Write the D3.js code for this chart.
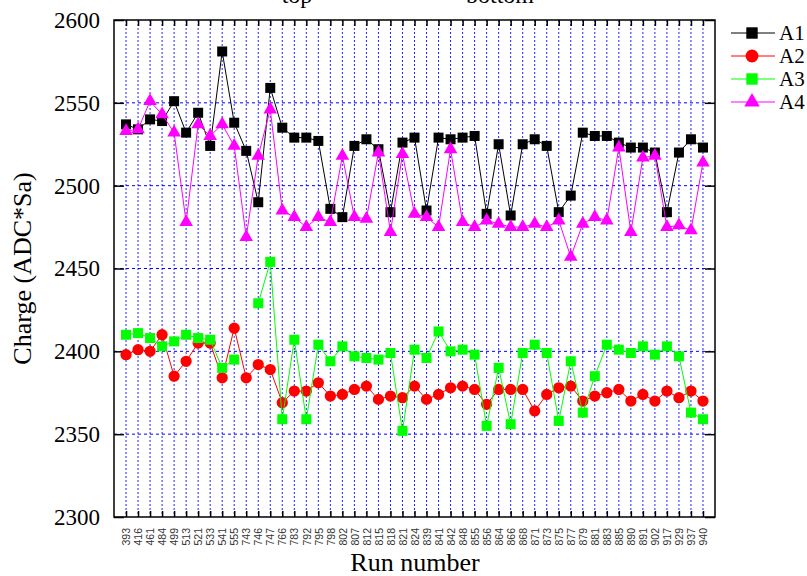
<!DOCTYPE html>
<html>
<head>
<meta charset="utf-8">
<script src="https://cdn.jsdelivr.net/npm/d3@7"></script>
<style>
    body { margin: 0; background: #fff; }
    svg { display: block; }
</style>
</head>
<body>
<svg id="chart"></svg>
<script>
// Run numbers on the x axis
const runs = ["393", "416", "461", "484", "499", "513", "521", "533", "541", "555",
    "743", "746", "747", "766", "783", "792", "795", "798", "802", "807",
    "812", "815", "818", "821", "824", "839", "841", "842", "848", "855",
    "856", "864", "866", "868", "871", "873", "875", "877", "879", "881",
    "883", "885", "890", "891", "902", "917", "929", "937", "940"];

const seriesNames = ["A1", "A2", "A3", "A4"];

const a1 = [2537, 2534, 2540, 2539, 2551, 2532, 2544, 2524, 2581, 2538,
    2521, 2490, 2559, 2535, 2529, 2529, 2527, 2486, 2481, 2524,
    2528, 2522, 2484, 2526, 2529, 2485, 2529, 2528, 2529, 2530,
    2483, 2525, 2482, 2525, 2528, 2524, 2484, 2494, 2532, 2530,
    2530, 2526, 2523, 2523, 2520, 2484, 2520, 2528, 2523];

const a2 = [2398, 2401, 2400, 2410, 2385, 2394, 2405, 2405, 2384, 2414,
    2384, 2392, 2389, 2369, 2376, 2376, 2381, 2373, 2374, 2377,
    2379, 2371, 2373, 2372, 2379, 2371, 2374, 2378, 2379, 2377,
    2368, 2377, 2377, 2377, 2364, 2374, 2378, 2379, 2370, 2373,
    2375, 2377, 2370, 2374, 2370, 2376, 2372, 2376, 2370];

// no A3 value for run 743
const a3 = [2410, 2411, 2408, 2403, 2406, 2410, 2408, 2407, 2390, 2395,
    null, 2429, 2454, 2359, 2407, 2359, 2404, 2394, 2403, 2397,
    2396, 2395, 2399, 2352, 2401, 2396, 2412, 2400, 2401, 2398,
    2355, 2390, 2356, 2399, 2404, 2399, 2358, 2394, 2363, 2385,
    2404, 2401, 2399, 2403, 2398, 2403, 2397, 2363, 2359];

const a4 = [2533, 2534, 2551, 2543, 2532, 2478, 2537, 2530, 2537, 2524,
    2469, 2518, 2546, 2485, 2481, 2475, 2481, 2478, 2518, 2481,
    2480, 2520, 2472, 2519, 2483, 2481, 2475, 2522, 2478, 2475,
    2479, 2477, 2475, 2475, 2477, 2475, 2479, 2457, 2477, 2481,
    2479, 2523, 2472, 2517, 2518, 2475, 2476, 2473, 2514];

const yTicks = [2300, 2350, 2400, 2450, 2500, 2550, 2600];

class ChargePlot {
    constructor(_config) {
        this.config = {
            parentElement: _config.parentElement,
            containerWidth: _config.containerWidth || 807,
            containerHeight: _config.containerHeight || 576,
            margin: { top: 20, right: 92, bottom: 59, left: 114 },
        };
        this.series = [
            { name: seriesNames[0], values: a1, color: "#000000", symbol: d3.symbolSquare, size: 100 },
            { name: seriesNames[1], values: a2, color: "#ff0000", symbol: d3.symbolCircle, size: 100 },
            { name: seriesNames[2], values: a3, color: "#00ff00", symbol: d3.symbolSquare, size: 100 },
            { name: seriesNames[3], values: a4, color: "#ff00ff", symbol: d3.symbolTriangle, size: 80 },
        ];
        this.initVis();
    }

    initVis() {
        let vis = this;
        const serif = "'Liberation Serif', 'Times New Roman', serif";

        vis.width = vis.config.containerWidth - vis.config.margin.left - vis.config.margin.right;
        vis.height = vis.config.containerHeight - vis.config.margin.top - vis.config.margin.bottom;

        vis.xScale = d3.scalePoint().domain(runs).range([0, vis.width]).padding(1);
        vis.yScale = d3.scaleLinear().domain([2300, 2600]).range([vis.height, 0]);

        vis.svg = d3.select(vis.config.parentElement)
            .attr("width", vis.config.containerWidth)
            .attr("height", vis.config.containerHeight);

        vis.chart = vis.svg.append("g")
            .attr("transform", `translate(${vis.config.margin.left},${vis.config.margin.top})`);

        // dashed blue grid
        vis.chart.append("g").selectAll("line.vgrid")
            .data(runs)
            .join("line")
            .attr("class", "vgrid")
            .attr("x1", d => vis.xScale(d)).attr("x2", d => vis.xScale(d))
            .attr("y1", 0).attr("y2", vis.height)
            .attr("stroke", "#2020ff").attr("stroke-width", 1)
            .attr("stroke-dasharray", "2,2");

        vis.chart.append("g").selectAll("line.hgrid")
            .data(yTicks.slice(1, -1))
            .join("line")
            .attr("class", "hgrid")
            .attr("x1", 0).attr("x2", vis.width)
            .attr("y1", d => vis.yScale(d)).attr("y2", d => vis.yScale(d))
            .attr("stroke", "#0000ff").attr("stroke-width", 1)
            .attr("stroke-dasharray", "3,3");

        // axes, ticks point inward
        vis.xAxisG = vis.chart.append("g")
            .attr("transform", `translate(0,${vis.height})`)
            .call(d3.axisBottom(vis.xScale).tickSizeInner(-6).tickSizeOuter(0));
        vis.xAxisG.selectAll("text")
            .attr("transform", "rotate(-90)")
            .attr("x", -11).attr("y", 0).attr("dy", "0.35em")
            .style("text-anchor", "end")
            .style("font-family", "'Liberation Sans', Arial, sans-serif")
            .style("font-size", "10.5px")
            .attr("fill", "#333");

        vis.chart.append("g")
            .call(d3.axisTop(vis.xScale).tickSizeInner(-6).tickSizeOuter(0).tickFormat(""));

        vis.chart.append("g")
            .call(d3.axisLeft(vis.yScale).tickValues(yTicks).tickFormat(d3.format("d"))
                .tickSizeInner(-10).tickSizeOuter(0).tickPadding(14))
            .selectAll("text")
            .style("font-family", serif)
            .style("font-size", "23px")
            .attr("fill", "#000");

        vis.chart.append("g")
            .attr("transform", `translate(${vis.width},0)`)
            .call(d3.axisRight(vis.yScale).tickValues(yTicks).tickSizeInner(-10).tickSizeOuter(0).tickFormat(""));

        vis.chart.selectAll(".tick line").attr("stroke", "#000").attr("stroke-width", 1.5);
        vis.chart.selectAll(".domain").remove();

        vis.chart.append("rect")
            .attr("width", vis.width).attr("height", vis.height)
            .attr("fill", "none").attr("stroke", "#000").attr("stroke-width", 1.5);

        // titles
        vis.svg.append("text")
            .attr("transform", `translate(31,${vis.config.margin.top + vis.height / 2}) rotate(-90)`)
            .attr("text-anchor", "middle")
            .style("font-family", serif).style("font-size", "26px")
            .text("Charge (ADC*Sa)");

        vis.svg.append("text")
            .attr("x", 415)
            .attr("y", 571)
            .attr("text-anchor", "middle")
            .style("font-family", serif).style("font-size", "26px")
            .text("Run number");

        vis.svg.append("text")
            .attr("x", 297).attr("y", 3)
            .attr("text-anchor", "middle")
            .style("font-family", serif).style("font-size", "24px")
            .text("top");
        vis.svg.append("text")
            .attr("x", 500).attr("y", 3)
            .attr("text-anchor", "middle")
            .style("font-family", serif).style("font-size", "24px")
            .text("bottom");

        vis.renderVis();
    }

    renderVis() {
        let vis = this;

        const line = d3.line()
            .defined(d => d.v != null)
            .x(d => vis.xScale(d.run))
            .y(d => vis.yScale(d.v));

        vis.series.forEach(s => {
            const pts = runs.map((r, i) => ({ run: r, v: s.values[i] }));
            const g = vis.chart.append("g");
            g.append("path")
                .datum(pts)
                .attr("fill", "none")
                .attr("stroke", s.color)
                .attr("stroke-width", 1)
                .attr("d", line);
            g.selectAll("path.mark")
                .data(pts.filter(d => d.v != null))
                .join("path")
                .attr("class", "mark")
                .attr("transform", d => `translate(${vis.xScale(d.run)},${vis.yScale(d.v)})`)
                .attr("d", d3.symbol().type(s.symbol).size(s.size))
                .attr("fill", s.color);
        });

        // legend
        const legend = vis.svg.append("g").attr("transform", "translate(731,33)");
        const rows = legend.selectAll("g")
            .data(vis.series)
            .join("g")
            .attr("transform", (d, i) => `translate(0,${i * 23})`);
        rows.append("line")
            .attr("x1", 0).attr("x2", 44)
            .attr("stroke", d => d.color).attr("stroke-width", 1);
        rows.append("path")
            .attr("transform", "translate(21,0)")
            .attr("d", d => d3.symbol().type(d.symbol).size(d.size * 1.3)())
            .attr("fill", d => d.color);
        rows.append("text")
            .attr("x", 48).attr("dy", "0.35em")
            .style("font-family", "'Liberation Serif', 'Times New Roman', serif")
            .style("font-size", "21px")
            .text(d => d.name);
    }
}

new ChargePlot({ parentElement: "#chart" });
</script>
</body>
</html>
